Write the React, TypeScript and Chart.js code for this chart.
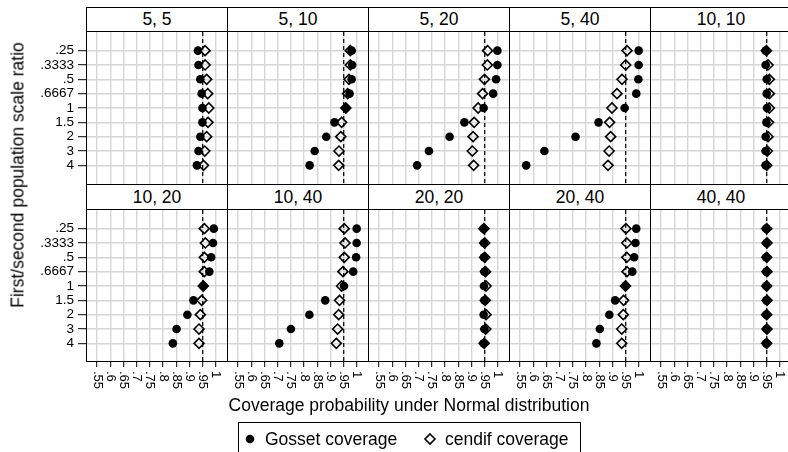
import React, { useEffect, useRef } from "react";
import { Chart, registerables } from "chart.js";

Chart.register(...registerables);

// ---------- data ----------
const PANEL_TITLES = ["5, 5", "5, 10", "5, 20", "5, 40", "10, 10", "10, 20", "10, 40", "20, 20", "20, 40", "40, 40"];
const RATIO_LABELS = [".25", ".3333", ".5", ".6667", "1", "1.5", "2", "3", "4"];
const X_TICKS = [0.55, 0.6, 0.65, 0.7, 0.75, 0.8, 0.85, 0.9, 0.95, 1];
const X_TICK_LABELS = [".55", ".6", ".65", ".7", ".75", ".8", ".85", ".9", ".95", "1"];
const REFERENCE_LEVEL = 0.95;

const GOSSET_5_5 = [0.932, 0.934, 0.941, 0.946, 0.949, 0.949, 0.941, 0.934, 0.928];
const CENDIF_5_5 = [0.959, 0.959, 0.965, 0.969, 0.973, 0.97, 0.965, 0.958, 0.953];
const GOSSET_5_10 = [0.98, 0.982, 0.98, 0.972, 0.958, 0.915, 0.884, 0.84, 0.821];
const CENDIF_5_10 = [0.975, 0.975, 0.97, 0.965, 0.958, 0.942, 0.939, 0.932, 0.931];
const GOSSET_5_20 = [0.998, 0.998, 0.993, 0.982, 0.946, 0.873, 0.817, 0.739, 0.694];
const CENDIF_5_20 = [0.961, 0.96, 0.949, 0.942, 0.925, 0.91, 0.906, 0.903, 0.908];
const GOSSET_5_40 = [0.999, 0.999, 0.998, 0.99, 0.946, 0.847, 0.76, 0.642, 0.573];
const CENDIF_5_40 = [0.955, 0.95, 0.936, 0.917, 0.898, 0.889, 0.893, 0.887, 0.883];
const GOSSET_10_10 = [0.946, 0.946, 0.95, 0.95, 0.951, 0.949, 0.946, 0.946, 0.946];
const CENDIF_10_10 = [0.949, 0.955, 0.96, 0.96, 0.96, 0.957, 0.955, 0.952, 0.95];
const GOSSET_10_20 = [0.992, 0.989, 0.982, 0.975, 0.952, 0.915, 0.892, 0.851, 0.837];
const CENDIF_10_20 = [0.956, 0.96, 0.956, 0.956, 0.952, 0.946, 0.941, 0.936, 0.936];
const GOSSET_10_40 = [0.999, 0.999, 0.997, 0.986, 0.951, 0.88, 0.82, 0.75, 0.706];
const CENDIF_10_40 = [0.952, 0.955, 0.952, 0.947, 0.942, 0.934, 0.931, 0.927, 0.922];
const GOSSET_20_20 = [0.946, 0.947, 0.947, 0.949, 0.947, 0.949, 0.946, 0.949, 0.946];
const CENDIF_20_20 = [0.947, 0.95, 0.95, 0.953, 0.955, 0.952, 0.955, 0.954, 0.948];
const GOSSET_20_40 = [0.99, 0.987, 0.982, 0.975, 0.949, 0.91, 0.888, 0.852, 0.839];
const CENDIF_20_40 = [0.951, 0.954, 0.954, 0.955, 0.949, 0.942, 0.941, 0.935, 0.935];
const GOSSET_40_40 = [0.948, 0.949, 0.948, 0.949, 0.948, 0.949, 0.948, 0.949, 0.948];
const CENDIF_40_40 = [0.95, 0.951, 0.95, 0.951, 0.95, 0.951, 0.95, 0.951, 0.95];

const GOSSET = [GOSSET_5_5, GOSSET_5_10, GOSSET_5_20, GOSSET_5_40, GOSSET_10_10, GOSSET_10_20, GOSSET_10_40, GOSSET_20_20, GOSSET_20_40, GOSSET_40_40];
const CENDIF = [CENDIF_5_5, CENDIF_5_10, CENDIF_5_20, CENDIF_5_40, CENDIF_10_10, CENDIF_10_20, CENDIF_10_40, CENDIF_20_20, CENDIF_20_40, CENDIF_40_40];

// ---------- layout ----------
const FONT = '"Liberation Sans", Arial, Helvetica, sans-serif';
const PANEL_LEFT = [86, 227, 368, 509, 650];
const PANEL_W = 141;
const PLOT_TOP = [32, 210];
const PLOT_H = [152, 152];
const HEADER_TOP = [7, 184];
const HEADER_H = [25, 26];
const LEFT_AXIS_W = 86;
const BOTTOM_AXIS_H = 34;
const X_MIN = 0.508;
const X_MAX = 1.042;
const Y_MIN = -0.3;
const Y_MAX = 10.3;
const GRID_COLOR = "rgb(214,214,214)";

function zeroPad(s: any) {
  s.paddingTop = 0;
  s.paddingBottom = 0;
  s.paddingLeft = 0;
  s.paddingRight = 0;
}

function makeDecor(isLeft: boolean, isBottom: boolean) {
  return {
    id: "panelDecor",
    afterDraw(chart: any) {
      const { ctx, chartArea } = chart;
      const { left, top, right, bottom } = chartArea;
      ctx.save();
      ctx.strokeStyle = "#000";
      ctx.lineWidth = 1;
      ctx.beginPath();
      ctx.moveTo(left + 0.5, top);
      ctx.lineTo(left + 0.5, bottom);
      if (isBottom) {
        ctx.moveTo(left, bottom - 0.5);
        ctx.lineTo(right, bottom - 0.5);
      }
      ctx.stroke();
      if (isBottom) {
        const xs = chart.scales.x;
        ctx.fillStyle = "#000";
        ctx.font = `13px ${FONT}`;
        ctx.textAlign = "left";
        ctx.textBaseline = "middle";
        X_TICKS.forEach((v, i) => {
          const px = xs.getPixelForValue(v);
          ctx.save();
          ctx.translate(px, bottom + 9);
          ctx.rotate(Math.PI / 2);
          ctx.fillText(X_TICK_LABELS[i], 0, 0);
          ctx.restore();
        });
      }
      ctx.restore();
    },
  };
}

function Panel({ index }: { index: number }) {
  const ref = useRef<HTMLCanvasElement | null>(null);
  const col = index % 5;
  const row = Math.floor(index / 5);
  const isLeft = col === 0;
  const isBottom = row === 1;
  const leftW = isLeft ? LEFT_AXIS_W : 0;
  const bottomH = isBottom ? BOTTOM_AXIS_H : 0;
  const canvasLeft = isLeft ? PANEL_LEFT[0] - LEFT_AXIS_W : PANEL_LEFT[col];
  const width = leftW + PANEL_W;
  const height = PLOT_H[row] + bottomH;

  useEffect(() => {
    const gosset = GOSSET[index].map((v, i) => ({ x: v, y: i + 1 }));
    const cendif = CENDIF[index].map((v, i) => ({ x: v, y: i + 1 }));
    const chart = new Chart(ref.current as HTMLCanvasElement, {
      type: "scatter",
      data: {
        datasets: [
          {
            label: "Gosset coverage",
            data: gosset,
            pointStyle: "circle",
            pointRadius: 4.3,
            backgroundColor: "#000",
            borderColor: "#000",
            borderWidth: 0,
          },
          {
            label: "cendif coverage",
            data: cendif,
            pointStyle: "rectRot",
            pointRadius: 5,
            backgroundColor: "rgba(0,0,0,0)",
            borderColor: "#000",
            borderWidth: 1.6,
          },
          {
            label: "reference",
            type: "line",
            data: [
              { x: REFERENCE_LEVEL, y: Y_MIN },
              { x: REFERENCE_LEVEL, y: Y_MAX },
            ],
            showLine: true,
            pointRadius: 0,
            borderColor: "#000",
            borderWidth: 1.2,
            borderDash: [4, 3],
          } as any,
        ],
      },
      options: {
        responsive: false,
        animation: false,
        events: [],
        layout: { padding: 0, autoPadding: false },
        plugins: { legend: { display: false }, tooltip: { enabled: false }, title: { display: false } },
        scales: {
          x: {
            type: "linear",
            min: X_MIN,
            max: X_MAX,
            afterBuildTicks: (s: any) => {
              s.ticks = X_TICKS.map((v) => ({ value: v }));
            },
            grid: {
              color: GRID_COLOR,
              lineWidth: 1.4,
              drawTicks: isBottom,
              tickLength: 5,
              tickColor: "#000",
              tickWidth: 1,
            },
            border: { display: false },
            ticks: { display: false },
            afterFit: (s: any) => {
              s.height = bottomH;
              zeroPad(s);
            },
          },
          y: {
            type: "linear",
            reverse: true,
            min: Y_MIN,
            max: Y_MAX,
            afterBuildTicks: (s: any) => {
              s.ticks = RATIO_LABELS.map((_, i) => ({ value: i + 1 }));
            },
            grid: {
              color: GRID_COLOR,
              lineWidth: 1.4,
              drawTicks: isLeft,
              tickLength: 8,
              tickColor: "#000",
              tickWidth: 1,
            },
            border: { display: false },
            ticks: {
              display: isLeft,
              autoSkip: false,
              padding: 4,
              color: "#000",
              font: { family: FONT, size: 13.5 },
              callback: (v: any) => RATIO_LABELS[Math.round(v) - 1] ?? "",
            },
            afterFit: (s: any) => {
              s.width = leftW;
              zeroPad(s);
            },
          },
        },
      },
      plugins: [makeDecor(isLeft, isBottom)],
    } as any);
    return () => chart.destroy();
  }, [index]);

  return (
    <canvas
      ref={ref}
      width={width}
      height={height}
      style={{ position: "absolute", left: canvasLeft, top: PLOT_TOP[row], width, height }}
    />
  );
}

function Header({ index }: { index: number }) {
  const col = index % 5;
  const row = Math.floor(index / 5);
  return (
    <div
      style={{
        position: "absolute",
        left: PANEL_LEFT[col],
        top: HEADER_TOP[row],
        width: PANEL_W + 1,
        height: HEADER_H[row],
        boxSizing: "border-box",
        border: "1px solid #000",
        background: "#fff",
        display: "flex",
        alignItems: "center",
        justifyContent: "center",
        fontSize: 17.5,
        color: "#000",
        fontFamily: FONT,
      }}
    >
      {PANEL_TITLES[index]}
    </div>
  );
}

export default function App() {
  return (
    <div
      style={{
        position: "fixed",
        left: 0,
        top: 0,
        width: 788,
        height: 452,
        overflow: "hidden",
        background: "#fff",
        fontFamily: FONT,
        color: "#000",
      }}
    >
      {PANEL_TITLES.map((_, i) => (
        <Panel key={"p" + i} index={i} />
      ))}
      {PANEL_TITLES.map((_, i) => (
        <Header key={"h" + i} index={i} />
      ))}
      <div
        style={{
          position: "absolute",
          left: 17.5,
          top: 175,
          transform: "translate(-50%, -50%) rotate(-90deg)",
          whiteSpace: "nowrap",
          fontSize: 17.5,
        }}
      >
        First/second population scale ratio
      </div>
      <div
        style={{
          position: "absolute",
          left: 409,
          top: 405,
          transform: "translate(-50%, -50%)",
          whiteSpace: "nowrap",
          fontSize: 17.5,
        }}
      >
        Coverage probability under Normal distribution
      </div>
      <div
        style={{
          position: "absolute",
          left: 238,
          top: 422,
          width: 343,
          height: 40,
          boxSizing: "border-box",
          border: "1px solid #000",
          background: "#fff",
        }}
      >
        <svg width={343} height={40} style={{ position: "absolute", left: -1, top: -1 }}>
          <circle cx={12} cy={17} r={4.3} fill="#000" />
          <polygon points="192,12 197,17 192,22 187,17" fill="none" stroke="#000" strokeWidth={1.6} />
        </svg>
        <span style={{ position: "absolute", left: 26, top: 17, transform: "translateY(-50%)", fontSize: 17.5, whiteSpace: "nowrap", lineHeight: 1 }}>
          Gosset coverage
        </span>
        <span style={{ position: "absolute", left: 206, top: 17, transform: "translateY(-50%)", fontSize: 17.5, whiteSpace: "nowrap", lineHeight: 1 }}>
          cendif coverage
        </span>
      </div>
    </div>
  );
}
